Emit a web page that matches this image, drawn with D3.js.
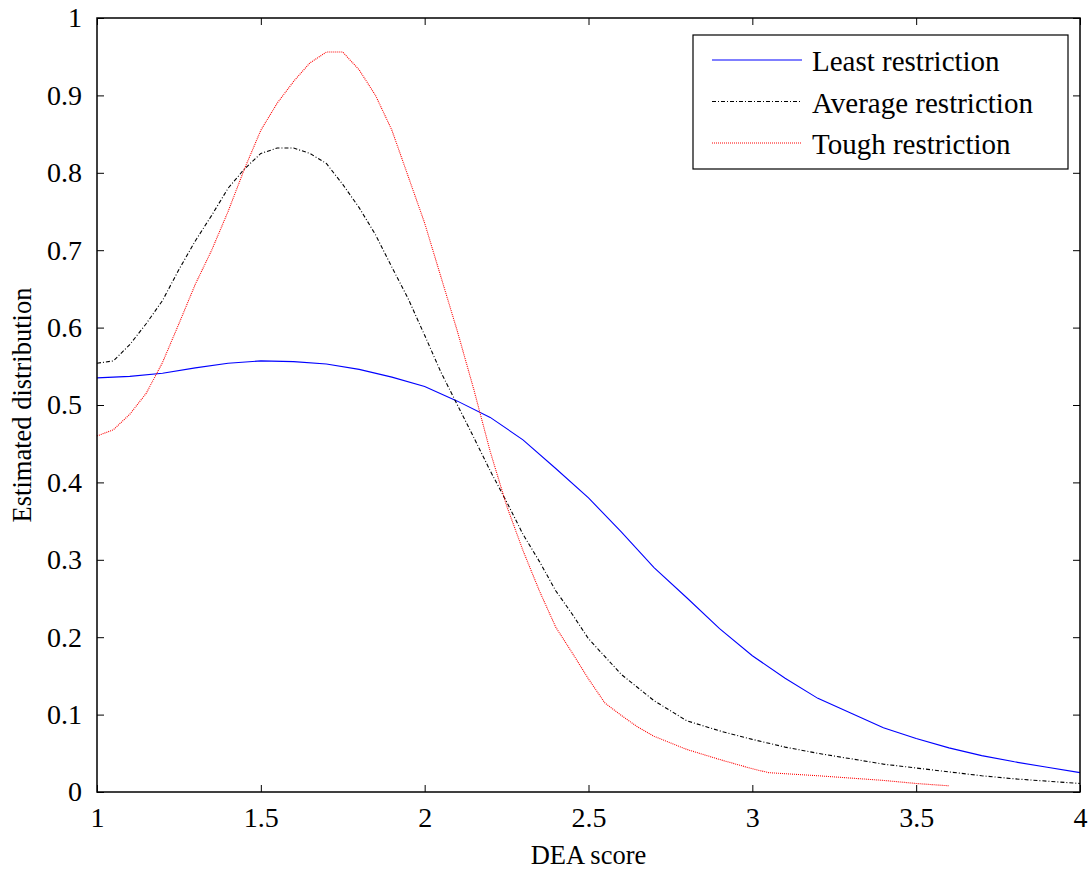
<!DOCTYPE html>
<html>
<head>
<meta charset="utf-8">
<script src="https://cdn.jsdelivr.net/npm/d3@7"></script>
<style>
  body { margin: 0; background: #fff; }
  text { font-family: "Liberation Serif", "Times New Roman", serif; fill: #000; }
</style>
</head>
<body>
<div id="wrapper"></div>
<script>
var margin = {top: 18, right: 12, bottom: 78, left: 97};
var width = 1092 - margin.left - margin.right;
var height = 870 - margin.top - margin.bottom;

// data
var leastX = [1.0, 1.1, 1.2, 1.3, 1.4, 1.5, 1.6, 1.7, 1.8, 1.9, 2.0, 2.1, 2.2, 2.3, 2.4, 2.5,
              2.6, 2.7, 2.8, 2.9, 3.0, 3.1, 3.2, 3.3, 3.4, 3.5, 3.6, 3.7, 3.8, 3.9, 4.0];
var leastY = [0.535, 0.537, 0.541, 0.548, 0.554, 0.557, 0.556, 0.553, 0.546, 0.536, 0.524, 0.505, 0.484, 0.455, 0.418, 0.38,
              0.336, 0.29, 0.251, 0.211, 0.176, 0.147, 0.121, 0.102, 0.083, 0.069, 0.057, 0.047, 0.039, 0.032, 0.025];

var avgX = [1.0, 1.05, 1.1, 1.15, 1.2, 1.25, 1.3, 1.35, 1.4, 1.45, 1.5, 1.55, 1.6, 1.65, 1.7, 1.75,
            1.8, 1.85, 1.9, 1.95, 2.0, 2.05, 2.1, 2.15, 2.2, 2.25, 2.3, 2.35, 2.4, 2.45, 2.5,
            2.6, 2.7, 2.8, 2.9, 3.0, 3.1, 3.2, 3.3, 3.4, 3.5, 3.6, 3.7, 3.8, 3.9, 4.0];
var avgY = [0.554, 0.557, 0.578, 0.605, 0.635, 0.675, 0.712, 0.745, 0.78, 0.805, 0.825, 0.832, 0.832, 0.825, 0.812, 0.785,
            0.755, 0.72, 0.678, 0.637, 0.59, 0.542, 0.5, 0.458, 0.415, 0.375, 0.333, 0.298, 0.26, 0.23, 0.198,
            0.152, 0.118, 0.092, 0.079, 0.068, 0.058, 0.05, 0.043, 0.036, 0.031, 0.026, 0.021, 0.017, 0.014, 0.011];

var toughX = [1.0, 1.05, 1.1, 1.15, 1.2, 1.25, 1.3, 1.35, 1.4, 1.45, 1.5, 1.55, 1.6, 1.65, 1.7, 1.75,
              1.8, 1.85, 1.9, 1.95, 2.0, 2.05, 2.1, 2.15, 2.2, 2.25, 2.3, 2.35, 2.4, 2.45, 2.5,
              2.55, 2.6, 2.65, 2.7, 2.8, 2.9, 3.0, 3.05, 3.2, 3.4, 3.5, 3.6];
var toughY = [0.46, 0.468, 0.488, 0.515, 0.555, 0.605, 0.656, 0.70, 0.75, 0.805, 0.855, 0.89, 0.918, 0.942, 0.956, 0.956,
              0.933, 0.9, 0.855, 0.795, 0.735, 0.665, 0.595, 0.52, 0.44, 0.37, 0.312, 0.26, 0.213, 0.18, 0.146,
              0.115, 0.099, 0.084, 0.072, 0.055, 0.042, 0.03, 0.025, 0.021, 0.015, 0.011, 0.008];

var seriesNames = ["Least restriction", "Average restriction", "Tough restriction"];
var xTicks = [1, 1.5, 2, 2.5, 3, 3.5, 4];
var yTicks = [0, 0.1, 0.2, 0.3, 0.4, 0.5, 0.6, 0.7, 0.8, 0.9, 1];

var series = [
  {name: seriesNames[0], xs: leastX, ys: leastY, color: "#0000ff", dash: null},
  {name: seriesNames[1], xs: avgX, ys: avgY, color: "#000000", dash: "4,2,1,2"},
  {name: seriesNames[2], xs: toughX, ys: toughY, color: "#ff0000", dash: "1,1"}
];

var svg = d3.select("#wrapper")
  .append("svg")
  .attr("width", 1092)
  .attr("height", 870)
  .style("background", "#fff");

var g = svg.append("g")
  .attr("transform", "translate(" + margin.left + "," + margin.top + ")");

var x = d3.scaleLinear().domain([1, 4]).range([0, width]);
var y = d3.scaleLinear().domain([0, 1]).range([height, 0]);

// lines
var line = d3.line()
  .x(function(d) { return x(d[0]); })
  .y(function(d) { return y(d[1]); });

series.forEach(function(s) {
  var pts = s.xs.map(function(v, i) { return [v, s.ys[i]]; });
  g.append("path")
    .datum(pts)
    .attr("d", line)
    .attr("fill", "none")
    .attr("stroke", s.color)
    .attr("stroke-width", 1.1)
    .attr("stroke-dasharray", s.dash);
});

// axes, ticks inward on all four sides
var tickLen = 7;
g.append("g")
  .attr("class", "axis")
  .attr("transform", "translate(0," + height + ")")
  .call(d3.axisBottom(x).tickValues(xTicks).tickSizeInner(-tickLen).tickSizeOuter(0).tickPadding(15)
    .tickFormat(d3.format("")));
g.append("g")
  .attr("class", "axis")
  .call(d3.axisTop(x).tickValues(xTicks).tickSizeInner(-tickLen).tickSizeOuter(0).tickFormat(""));
g.append("g")
  .attr("class", "axis")
  .call(d3.axisLeft(y).tickValues(yTicks).tickSizeInner(-tickLen).tickSizeOuter(0).tickPadding(15)
    .tickFormat(d3.format("")));
g.append("g")
  .attr("class", "axis")
  .attr("transform", "translate(" + width + ",0)")
  .call(d3.axisRight(y).tickValues(yTicks).tickSizeInner(-tickLen).tickSizeOuter(0).tickFormat(""));

g.selectAll(".axis").attr("font-family", null).attr("font-size", null);
g.selectAll(".domain").remove();
g.selectAll(".tick line").attr("stroke", "#000").attr("stroke-width", 1);
g.selectAll(".tick text")
  .style("font-family", "'Liberation Serif', 'Times New Roman', serif")
  .style("font-size", "28px")
  .attr("fill", "#000");

// frame
g.append("rect")
  .attr("x", 0).attr("y", 0)
  .attr("width", width).attr("height", height)
  .attr("fill", "none")
  .attr("stroke", "#000")
  .attr("stroke-width", 1.5);

// axis titles
svg.append("text")
  .attr("x", margin.left + width / 2)
  .attr("y", 864)
  .attr("text-anchor", "middle")
  .style("font-size", "26.5px")
  .text("DEA score");

svg.append("text")
  .attr("transform", "translate(31," + (margin.top + height / 2) + ") rotate(-90)")
  .attr("text-anchor", "middle")
  .style("font-size", "26.5px")
  .text("Estimated distribution");

// legend
var legend = svg.append("g").attr("transform", "translate(693,35)");
legend.append("rect")
  .attr("width", 375).attr("height", 134)
  .attr("fill", "#fff")
  .attr("stroke", "#000")
  .attr("stroke-width", 1.2);

var rowY = d3.scalePoint().domain(seriesNames).range([25, 108]);
series.forEach(function(s) {
  legend.append("line")
    .attr("x1", 19).attr("x2", 109)
    .attr("y1", rowY(s.name)).attr("y2", rowY(s.name))
    .attr("stroke", s.color)
    .attr("stroke-width", 1.1)
    .attr("stroke-dasharray", s.dash);
  legend.append("text")
    .attr("x", 119)
    .attr("y", rowY(s.name) + 11)
    .style("font-size", "29px")
    .text(s.name);
});
</script>
</body>
</html>
